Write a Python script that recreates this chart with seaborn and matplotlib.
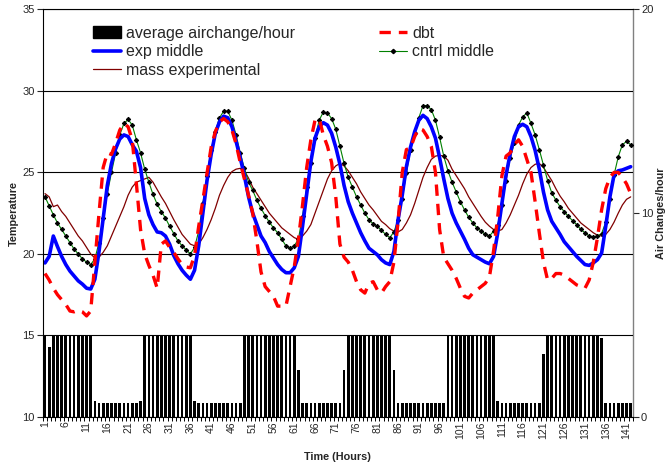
import numpy as np
import matplotlib
matplotlib.use("Agg")
import matplotlib.pyplot as plt
import seaborn as sns
from matplotlib.lines import Line2D
from matplotlib.patches import Patch

# ---------------- data ----------------
hours = list(range(1, 143))

ach = ([4.0, 3.45] + [4.0] * 10 + [0.8] + [0.7] * 10 + [0.8] +
       [4.0] * 12 + [0.8] + [0.7] * 11 +
       [4.0] * 13 + [2.3] + [0.7] * 10 + [2.3] +
       [4.0] * 11 + [2.3] + [0.7] * 12 +
       [4.0] * 12 + [0.8] + [0.7] * 10 + [3.1] +
       [4.0] * 13 + [3.9] + [0.7] * 7)

dbt = [18.8, 18.4, 17.9, 17.5, 17.2, 16.9, 16.5, 16.45, 16.55, 16.45,
       16.2, 16.5, 19.5, 22.5, 25.3, 26.2, 26.1, 26.8, 27.6, 28.0,
       27.8, 27.0, 24.3, 21.5, 20.0, 19.3, 18.7, 17.9, 20.6, 20.8,
       20.4, 20.1, 19.7, 19.35, 19.2, 19.15, 19.9, 21.7, 23.3, 24.95,
       26.55, 27.5, 28.1, 28.3, 28.1, 27.6, 26.75, 25.6, 24.6, 23.6,
       22.5, 20.8, 18.9, 18.0, 17.7, 17.4, 16.8, 16.8, 16.8, 18.0,
       19.2, 20.9, 23.0, 25.3, 27.0, 28.2, 28.3, 27.3, 26.6, 25.6,
       23.5, 20.6, 19.8, 19.5, 19.0, 18.3, 17.8, 17.6, 18.2, 18.3,
       17.8, 17.6, 18.0, 18.3, 19.5, 22.0, 25.0, 26.4, 26.5, 27.2,
       27.7, 27.6, 27.2, 26.6, 25.0, 21.5, 19.8, 19.4, 19.0, 18.5,
       17.9, 17.4, 17.3, 17.6, 17.8, 18.0, 18.2, 18.6, 20.2, 22.3,
       24.8, 26.0, 26.2, 26.7, 27.0, 26.6, 25.8, 25.0, 23.2, 21.3,
       19.5, 18.4, 18.5, 18.8, 18.8, 18.7, 18.5, 18.3, 18.1, 18.0,
       17.9, 18.4, 19.5, 21.0, 22.7, 24.0, 24.7, 25.0, 25.0, 24.7,
       24.3, 23.7]

exp_middle = [19.45, 19.85, 21.1, 20.45, 19.85, 19.35, 18.95, 18.65, 18.35, 18.15,
              17.9, 17.85, 18.45, 20.15, 22.2, 24.2, 25.55, 26.45, 27.05, 27.3,
              27.2, 26.7, 26.3, 25.3, 23.4, 22.4, 21.8, 21.35, 21.3, 21.1,
              20.6, 19.9, 19.4, 19.0, 18.7, 18.45, 19.0, 20.5, 22.5, 24.5,
              26.1, 27.4, 28.1, 28.45, 28.35, 27.8, 26.9, 25.9, 24.8, 23.5,
              22.5, 21.8, 21.1, 20.7, 20.15, 19.75, 19.35, 19.05, 18.85, 18.85,
              19.15, 19.85, 21.7, 23.7, 25.65, 27.1, 27.8, 28.05, 27.9, 27.4,
              26.55, 25.5, 24.2, 23.2, 22.5, 21.9, 21.3, 20.8, 20.35, 20.15,
              19.95, 19.65, 19.45, 19.35, 20.15, 22.1, 23.6, 25.35, 26.55, 27.5,
              28.2, 28.5, 28.3, 27.8, 27.1, 25.9, 24.6, 23.4, 22.5, 21.9,
              21.4, 20.9, 20.35, 19.95, 19.8, 19.65, 19.5, 19.4, 19.85, 21.3,
              23.1, 24.85, 26.15, 27.2, 27.8, 27.95, 27.8, 27.2, 26.35, 25.2,
              23.8, 22.7, 22.0, 21.6, 21.2, 20.75, 20.45, 20.15, 19.85, 19.6,
              19.35, 19.3, 19.45, 19.65, 20.05, 21.7, 23.5, 24.85, 25.1, 25.15,
              25.25, 25.35]

cntrl_middle = [23.5, 22.95, 22.4, 21.9, 21.5, 21.1, 20.7, 20.3, 20.0, 19.7,
                19.5, 19.35, 19.7, 20.7, 22.2, 23.7, 25.0, 26.2, 27.3, 28.0,
                28.25, 27.9, 27.0, 26.2, 25.2, 24.4, 23.65, 23.05, 22.6, 22.2,
                21.7, 21.25, 20.8, 20.5, 20.25, 20.0, 20.4, 21.4, 23.1, 24.8,
                26.4, 27.5, 28.35, 28.75, 28.75, 28.2, 27.3, 26.2, 25.25, 24.4,
                23.9, 23.3, 22.8, 22.35, 21.95, 21.6, 21.3, 20.9, 20.5, 20.35,
                20.5, 20.9, 22.35, 24.1, 25.6, 27.1, 28.2, 28.7, 28.65, 28.3,
                27.65, 26.6, 25.55, 24.7, 24.1, 23.5, 23.0, 22.5, 22.1, 21.85,
                21.7, 21.45, 21.2, 21.0, 21.35, 22.1, 23.4, 24.95, 26.4, 27.4,
                28.35, 29.1, 29.1, 28.85, 28.2, 27.15, 26.0, 25.1, 24.4, 23.8,
                23.2, 22.7, 22.25, 21.9, 21.6, 21.4, 21.2, 21.1, 21.4, 21.8,
                23.0, 24.5, 25.9, 26.8, 27.9, 28.4, 28.65, 28.0, 27.3, 26.4,
                25.45, 24.5, 23.75, 23.3, 22.9, 22.6, 22.3, 22.05, 21.8, 21.5,
                21.3, 21.1, 21.05, 21.1, 21.25, 21.95, 23.4, 24.85, 25.95, 26.7,
                26.9, 26.7]

mass_exp = [23.7, 23.5, 22.9, 23.0, 22.6, 22.3, 21.9, 21.5, 21.1, 20.8,
            20.4, 20.0, 19.75, 19.8, 20.1, 20.5, 21.1, 21.7, 22.3, 22.9,
            23.6, 24.1, 24.4, 24.5, 24.6, 24.7, 24.4, 23.95, 23.5, 23.1,
            22.6, 22.1, 21.65, 21.2, 20.9, 20.6, 20.5, 20.6, 21.0, 21.5,
            22.1, 22.8, 23.6, 24.2, 24.7, 25.05, 25.2, 25.25, 25.1, 24.65,
            24.1, 23.7, 23.3, 22.9, 22.5, 22.2, 21.9, 21.6, 21.4, 21.2,
            21.0, 20.9, 21.1, 21.4, 21.8, 22.5, 23.2, 23.9, 24.6, 25.1,
            25.4, 25.55, 25.4, 25.1, 24.7, 24.3, 23.8, 23.4, 23.0, 22.7,
            22.35, 22.0, 21.8, 21.55, 21.4, 21.35, 21.5, 21.9, 22.4, 23.1,
            23.9, 24.7, 25.3, 25.8, 26.0, 26.05, 26.0, 25.75, 25.2, 24.8,
            24.4, 24.0, 23.5, 23.1, 22.7, 22.3, 21.95, 21.7, 21.5, 21.4,
            21.5, 21.9, 22.4, 23.0, 23.6, 24.3, 24.9, 25.3, 25.5, 25.55,
            25.3, 24.9, 24.5, 24.0, 23.55, 23.2, 22.8, 22.5, 22.2, 21.9,
            21.7, 21.5, 21.3, 21.15, 21.1, 21.2, 21.5, 21.95, 22.5, 23.0,
            23.35, 23.5]

xtick_values = list(range(1, 143, 5))
temp_ticks = [10, 15, 20, 25, 30, 35]
ach_ticks = [0, 10, 20]

# ---------------- style ----------------
sns.set_style("white")
plt.rcParams["font.family"] = ["Liberation Sans", "DejaVu Sans"]

fig = plt.figure(figsize=(6.71, 4.67), dpi=100)
ax = fig.add_axes([0.064, 0.107, 0.879, 0.873])
ax2 = ax.twinx()

# bars on the secondary axis
sns.barplot(x=hours, y=ach, native_scale=True, color="black", width=0.65,
            saturation=1, errorbar=None, edgecolor="none", linewidth=0, ax=ax2)

# lines on the primary axis
sns.lineplot(x=hours, y=mass_exp, color="#800000", lw=0.9, ax=ax, legend=False)
sns.lineplot(x=hours, y=cntrl_middle, color="#008000", lw=0.8, marker="D",
             markersize=2.2, markerfacecolor="black", markeredgecolor="black",
             ax=ax, legend=False)
sns.lineplot(x=hours, y=exp_middle, color="#0000FF", lw=2.6, ax=ax, legend=False)
sns.lineplot(x=hours, y=dbt, color="#FF0000", lw=2.4, ax=ax, legend=False)
ax.lines[-1].set_linestyle((0, (3.4, 2.4)))

ax.set_zorder(ax2.get_zorder() + 1)
ax.patch.set_visible(False)

ax.set_xlim(0.5, 142.5)
ax.set_ylim(10, 35)
ax2.set_ylim(0, 20)

ax.set_yticks(temp_ticks)
ax.set_yticklabels([str(t) for t in temp_ticks])
ax2.set_yticks(ach_ticks)
ax2.set_yticklabels([str(t) for t in ach_ticks])

ax.set_xticks(xtick_values)
ax.set_xticklabels([str(v) for v in xtick_values], rotation=90)
ax.set_xticks(np.arange(0.5, 143, 1), minor=True)

ax.tick_params(axis="x", which="major", bottom=True, length=0, labelsize=7.5, pad=3)
ax.tick_params(axis="x", which="minor", bottom=True, length=3, width=0.7,
               direction="out", color="black")
ax.tick_params(axis="y", which="major", left=True, length=4, width=0.8,
               direction="out", labelsize=8, pad=2)
ax2.tick_params(axis="y", which="major", right=True, left=False, length=4,
                width=0.8, direction="out", labelsize=8, pad=2)

ax.yaxis.grid(True, color="black", lw=0.8)
ax.xaxis.grid(False)
ax2.grid(False)

for sp in ["left", "bottom", "top"]:
    ax.spines[sp].set_color("black")
    ax.spines[sp].set_linewidth(0.8)
ax.spines["right"].set_visible(False)
for sp in ["left", "top", "bottom"]:
    ax2.spines[sp].set_visible(False)
ax2.spines["right"].set_color("#808080")
ax2.spines["right"].set_linewidth(1.0)

ax.set_xlabel("Time (Hours)", fontweight="bold", fontsize=7.8)
ax.set_ylabel("Temperature", fontweight="bold", fontsize=7.8)
ax2.set_ylabel("Air Changes/hour", fontweight="bold", fontsize=7.8)
ax.xaxis.set_label_coords(0.5, -0.085)
ax.yaxis.set_label_coords(-0.041, 0.5)
ax2.yaxis.set_label_coords(1.039, 0.5)

handles = [
    Patch(facecolor="black", edgecolor="black"),
    Line2D([], [], color="#0000FF", lw=2.6),
    Line2D([], [], color="#800000", lw=0.9),
    Line2D([], [], color="#FF0000", lw=2.4, ls=(0, (3.4, 2.4))),
    Line2D([], [], color="#008000", lw=0.8, marker="D", markersize=2.2,
           markerfacecolor="black", markeredgecolor="black"),
]
labels = ["average airchange/hour", "exp middle", "mass experimental",
          "dbt", "cntrl middle"]
ax.legend(handles, labels, loc="upper left", bbox_to_anchor=(0.085, 0.96),
          ncol=2, frameon=False, fontsize=11.5, handlelength=1.75,
          handletextpad=0.3, columnspacing=5.3, labelspacing=0.23,
          borderaxespad=0, borderpad=0)

fig.savefig("out.png", dpi=100, facecolor="white")
